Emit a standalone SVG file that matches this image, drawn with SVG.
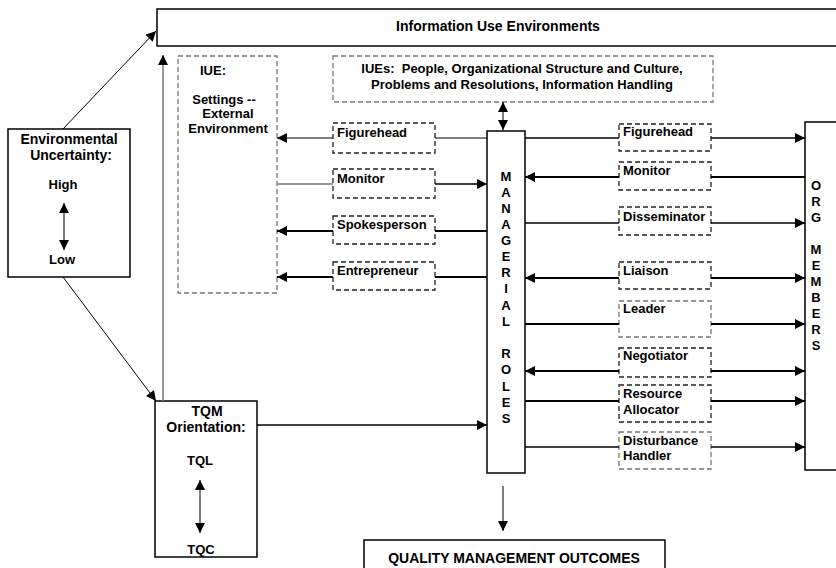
<svg xmlns="http://www.w3.org/2000/svg" width="836" height="568" viewBox="0 0 836 568">
<defs>
<style>
text{font-family:"Liberation Sans",Arial,sans-serif;font-weight:bold;fill:#000}
.t14{font-size:14px}
.t13{font-size:13px}
.c{text-anchor:middle}
.box{fill:#fff;stroke:#000;stroke-width:1.5}
.dash{fill:#fff;stroke:#222;stroke-width:1.3;stroke-dasharray:5,3}
.dashg{fill:#fff;stroke:#777;stroke-width:1.3;stroke-dasharray:5,3}
.ln{fill:none;stroke:#000;stroke-width:1.3}
.lt{fill:none;stroke:#000;stroke-width:1}
.lk{fill:none;stroke:#000;stroke-width:2}
.lg{fill:none;stroke:#777;stroke-width:1.5}
</style>
<marker id="ah" viewBox="0 0 10 10" markerUnits="userSpaceOnUse" markerWidth="11" markerHeight="10" refX="10" refY="5" orient="auto-start-reverse">
<path d="M0,0 L10,5 L0,10 z" fill="#000"/>
</marker>
</defs>

<g id="iue-top">
<rect class="box" x="157" y="9" width="690" height="37"/>
<text class="t14 c" x="498" y="31">Information Use Environments</text>
</g>

<g id="env">
<rect class="box" x="8" y="129" width="122" height="148"/>
<text class="t14 c" x="69" y="144">Environmental</text>
<text class="t14 c" x="71" y="160">Uncertainty:</text>
<text class="t13 c" x="63" y="189">High</text>
<text class="t13 c" x="62" y="264">Low</text>
<line class="lt" x1="64" y1="203" x2="64" y2="250" marker-start="url(#ah)" marker-end="url(#ah)"/>
</g>

<g id="tqm">
<rect class="box" x="155" y="401" width="102" height="156"/>
<text class="t14 c" x="207" y="416">TQM</text>
<text class="t14 c" x="206" y="432">Orientation:</text>
<text class="t13 c" x="200" y="465">TQL</text>
<text class="t13 c" x="201" y="554">TQC</text>
<line class="lt" x1="200" y1="480" x2="200" y2="533" marker-start="url(#ah)" marker-end="url(#ah)"/>
</g>

<g id="iue-settings">
<rect class="dashg" x="178" y="56" width="99" height="237"/>
<text class="t13 c" x="213" y="75">IUE:</text>
<text class="t13 c" x="224" y="104">Settings --</text>
<text class="t13 c" x="228" y="118">External</text>
<text class="t13 c" x="228" y="133">Environment</text>
</g>

<g id="iues">
<rect class="dashg" x="333" y="56" width="380" height="46"/>
<text class="t13 c" x="522" y="73">IUEs:&#160; People, Organizational Structure and Culture,</text>
<text class="t13 c" x="522" y="89">Problems and Resolutions, Information Handling</text>
</g>

<g id="managerial">
<rect class="box" x="487" y="131" width="38" height="342"/>
<text class="t13 c" x="506" y="181">M</text>
<text class="t13 c" x="506" y="197">A</text>
<text class="t13 c" x="506" y="213">N</text>
<text class="t13 c" x="506" y="229">A</text>
<text class="t13 c" x="506" y="245">G</text>
<text class="t13 c" x="506" y="261">E</text>
<text class="t13 c" x="506" y="277">R</text>
<text class="t13 c" x="506" y="293">I</text>
<text class="t13 c" x="506" y="310">A</text>
<text class="t13 c" x="506" y="326">L</text>
<text class="t13 c" x="506" y="358">R</text>
<text class="t13 c" x="506" y="374">O</text>
<text class="t13 c" x="506" y="391">L</text>
<text class="t13 c" x="506" y="407">E</text>
<text class="t13 c" x="506" y="423">S</text>
</g>

<g id="org">
<rect class="box" x="805" y="122" width="60" height="348"/>
<text class="t13 c" x="816" y="190">O</text>
<text class="t13 c" x="816" y="206">R</text>
<text class="t13 c" x="816" y="222">G</text>
<text class="t13 c" x="816" y="254">M</text>
<text class="t13 c" x="816" y="270">E</text>
<text class="t13 c" x="816" y="286">M</text>
<text class="t13 c" x="816" y="302">B</text>
<text class="t13 c" x="816" y="318">E</text>
<text class="t13 c" x="816" y="334">R</text>
<text class="t13 c" x="816" y="350">S</text>
</g>

<g id="quality">
<rect class="box" x="364" y="540" width="301" height="40"/>
<text class="t14 c" x="514" y="563">QUALITY MANAGEMENT OUTCOMES</text>
</g>

<g id="l-figurehead"><rect class="dash" x="333" y="123" width="102" height="30"/><text class="t13" x="337" y="137">Figurehead</text></g>
<g id="l-monitor"><rect class="dash" x="333" y="169" width="102" height="29"/><text class="t13" x="337" y="183">Monitor</text></g>
<g id="l-spokesperson"><rect class="dash" x="333" y="216" width="102" height="28"/><text class="t13" x="337" y="229">Spokesperson</text></g>
<g id="l-entrepreneur"><rect class="dash" x="333" y="262" width="102" height="28"/><text class="t13" x="337" y="275">Entrepreneur</text></g>

<g id="r-figurehead"><rect class="dash" x="619" y="124" width="92" height="27"/><text class="t13" x="623" y="136">Figurehead</text></g>
<g id="r-monitor"><rect class="dash" x="619" y="162" width="92" height="28"/><text class="t13" x="623" y="175">Monitor</text></g>
<g id="r-disseminator"><rect class="dash" x="619" y="207" width="92" height="28"/><text class="t13" x="623" y="221">Disseminator</text></g>
<g id="r-liaison"><rect class="dash" x="619" y="262" width="92" height="27"/><text class="t13" x="623" y="275">Liaison</text></g>
<g id="r-leader"><rect class="dashg" x="619" y="301" width="92" height="36"/><text class="t13" x="623" y="313">Leader</text></g>
<g id="r-negotiator"><rect class="dash" x="619" y="348" width="92" height="29"/><text class="t13" x="623" y="360">Negotiator</text></g>
<g id="r-resource"><rect class="dash" x="619" y="385" width="92" height="37"/><text class="t13" x="623" y="398">Resource</text><text class="t13" x="623" y="414">Allocator</text></g>
<g id="r-disturbance"><rect class="dashg" x="619" y="432" width="92" height="37"/><text class="t13" x="623" y="445">Disturbance</text><text class="t13" x="623" y="460">Handler</text></g>

<g id="connectors">
<line class="lt" x1="63" y1="129" x2="156" y2="31" marker-end="url(#ah)"/>
<line class="lt" x1="63" y1="277" x2="156" y2="401" marker-end="url(#ah)"/>
<line class="lg" x1="163" y1="401" x2="163" y2="55" marker-end="url(#ah)"/>
<line class="ln" x1="257" y1="425" x2="487" y2="425" marker-end="url(#ah)"/>
<line class="lt" x1="503" y1="102" x2="503" y2="130" marker-start="url(#ah)" marker-end="url(#ah)"/>
<line class="lt" x1="503" y1="486" x2="503" y2="531" marker-end="url(#ah)"/>

<line class="lt" x1="487" y1="138" x2="435" y2="138"/>
<line class="lt" x1="333" y1="138" x2="277" y2="138" marker-end="url(#ah)"/>
<line class="lg" x1="277" y1="184" x2="333" y2="184"/>
<line class="ln" x1="435" y1="184" x2="487" y2="184" marker-end="url(#ah)"/>
<line class="lk" x1="487" y1="231" x2="435" y2="231"/>
<line class="lk" x1="333" y1="231" x2="277" y2="231" marker-end="url(#ah)"/>
<line class="lk" x1="487" y1="277" x2="435" y2="277"/>
<line class="lk" x1="333" y1="277" x2="277" y2="277" marker-end="url(#ah)"/>

<line class="ln" x1="525" y1="138" x2="619" y2="138"/>
<line class="ln" x1="711" y1="138" x2="805" y2="138" marker-end="url(#ah)"/>
<line class="lk" x1="619" y1="177" x2="525" y2="177" marker-end="url(#ah)"/>
<line class="lk" x1="805" y1="177" x2="711" y2="177"/>
<line class="ln" x1="525" y1="223" x2="619" y2="223"/>
<line class="ln" x1="711" y1="223" x2="805" y2="223" marker-end="url(#ah)"/>
<line class="lk" x1="619" y1="278" x2="525" y2="278" marker-end="url(#ah)"/>
<line class="lk" x1="711" y1="278" x2="805" y2="278" marker-end="url(#ah)"/>
<line class="lk" x1="525" y1="324" x2="619" y2="324"/>
<line class="lk" x1="711" y1="324" x2="805" y2="324" marker-end="url(#ah)"/>
<line class="lk" x1="619" y1="371" x2="525" y2="371" marker-end="url(#ah)"/>
<line class="lk" x1="711" y1="371" x2="805" y2="371" marker-end="url(#ah)"/>
<line class="lk" x1="525" y1="401" x2="619" y2="401"/>
<line class="lk" x1="711" y1="401" x2="805" y2="401" marker-end="url(#ah)"/>
<line class="ln" x1="525" y1="447" x2="619" y2="447"/>
<line class="ln" x1="711" y1="447" x2="805" y2="447" marker-end="url(#ah)"/>
</g>
</svg>
